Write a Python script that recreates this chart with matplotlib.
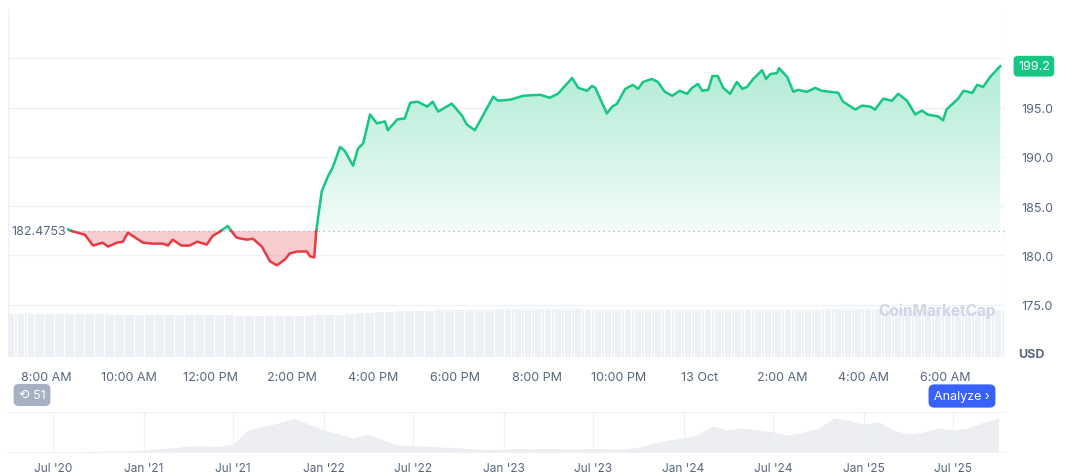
import matplotlib.pyplot as plt
import matplotlib.dates as mdates
import numpy as np
import pandas as pd

plt.rcParams['font.family'] = ['Inter', 'DejaVu Sans']

# price series, 12-13 Oct
times = ["08:28", "08:37", "08:56", "09:08", "09:22", "09:30", "09:43", "09:52", "09:59", "10:17",
         "10:21", "10:36", "10:51", "10:58", "11:05", "11:18", "11:30", "11:41", "11:55", "12:04",
         "12:14", "12:26", "12:32", "12:39", "12:54", "13:03", "13:16", "13:28", "13:38", "13:50",
         "13:57", "14:08", "14:22", "14:27", "14:33", "14:36", "14:44", "14:53", "15:00", "15:11",
         "15:18", "15:30", "15:37", "15:45", "15:55", "16:05", "16:17", "16:21", "16:35", "16:46",
         "16:54", "17:05", "17:19", "17:27", "17:35", "17:55", "18:10", "18:17", "18:29", "18:56",
         "19:03", "19:21", "19:40", "20:05", "20:19", "20:31", "20:44", "20:52", "21:01", "21:14",
         "21:21", "21:26", "21:43", "21:51", "21:58", "22:10", "22:21", "22:29", "22:36", "22:49",
         "22:58", "23:08", "23:19", "23:30", "23:41", "23:48", "23:57",
         "+00:03", "+00:12", "+00:18", "+00:26", "+00:34", "+00:44", "+00:54", "+01:02", "+01:09",
         "+01:18", "+01:31", "+01:37", "+01:43", "+01:53", "+01:56", "+02:08", "+02:17", "+02:24",
         "+02:37", "+02:49", "+02:59", "+03:11", "+03:23", "+03:30", "+03:48", "+03:58", "+04:10",
         "+04:17", "+04:29", "+04:42", "+04:51", "+05:04", "+05:16", "+05:26", "+05:34", "+05:50",
         "+05:57", "+06:02", "+06:19", "+06:27", "+06:40", "+06:47", "+06:56", "+07:06", "+07:21"]
prices = [182.74, 182.47, 182.1, 181.0, 181.3, 180.9, 181.3, 181.4, 182.3, 181.5,
          181.3, 181.2, 181.2, 181.0, 181.6, 181.0, 181.0, 181.4, 181.1, 182.0,
          182.4, 183.0, 182.4, 181.8, 181.6, 181.7, 180.9, 179.4, 179.0, 179.6,
          180.2, 180.4, 180.4, 179.9, 179.8, 182.5, 186.5, 188.0, 188.9, 191.0,
          190.6, 189.1, 190.8, 191.4, 194.3, 193.4, 193.6, 192.7, 193.8, 193.9,
          195.5, 195.6, 195.1, 195.6, 194.6, 195.4, 194.2, 193.3, 192.7, 196.1,
          195.7, 195.8, 196.2, 196.3, 196.0, 196.4, 197.4, 198.0, 197.0, 196.7,
          197.2, 197.0, 194.4, 195.1, 195.4, 196.9, 197.3, 196.9, 197.6, 197.9,
          197.6, 196.6, 196.2, 196.7, 196.4, 197.0, 197.4,
          196.7, 196.8, 198.2, 198.2, 197.0, 196.4, 197.6, 196.9, 197.1,
          197.9, 198.8, 197.9, 198.4, 198.5, 199.0, 198.1, 196.6, 196.8,
          196.6, 197.0, 196.7, 196.6, 196.5, 195.6, 194.8, 195.2, 195.1,
          194.8, 195.9, 195.7, 196.4, 195.7, 194.3, 194.7, 194.3, 194.1,
          193.7, 194.8, 195.9, 196.7, 196.5, 197.3, 197.1, 198.1, 199.2]
open_price = 182.4753
last_label = "199.2"

# hourly volume (relative)
vol_hours = list(range(7, 32))
volumes = [0.90, 0.90, 0.89, 0.88, 0.87, 0.87, 0.86, 0.86, 0.87, 0.93, 0.96, 0.98,
           0.99, 0.99, 0.99, 0.98, 0.98, 0.98, 0.98, 0.98, 0.99, 0.99, 0.99, 0.98, 0.98]

xtick_times = ["08:00", "10:00", "12:00", "14:00", "16:00", "18:00", "20:00", "22:00",
               "+00:00", "+02:00", "+04:00", "+06:00"]
xtick_labels = ["8:00 AM", "10:00 AM", "12:00 PM", "2:00 PM", "4:00 PM", "6:00 PM", "8:00 PM",
                "10:00 PM", "13 Oct", "2:00 AM", "4:00 AM", "6:00 AM"]
yticks = [175.0, 180.0, 185.0, 190.0, 195.0]

# navigator history (monthly, relative)
nav_start = "2020-04-01"
nav_values = [0.0, 0.0, 0.01, 0.01, 0.01, 0.01, 0.02, 0.02, 0.03,
              0.05, 0.08, 0.10, 0.15, 0.15, 0.14, 0.20, 0.55, 0.65, 0.72, 0.85, 0.70,
              0.55, 0.45, 0.35, 0.45, 0.30, 0.18, 0.15, 0.15, 0.12, 0.10, 0.08, 0.06,
              0.07, 0.09, 0.08, 0.09, 0.08, 0.08, 0.09, 0.08, 0.07, 0.12, 0.22, 0.30,
              0.35, 0.45, 0.65, 0.55, 0.60, 0.55, 0.50, 0.42, 0.50, 0.60, 0.85, 0.80,
              0.70, 0.75, 0.55, 0.45, 0.50, 0.60, 0.55, 0.60, 0.75, 0.85]
nav_ticks = ["2020-07-01", "2021-01-01", "2021-07-01", "2022-01-01", "2022-07-01", "2023-01-01",
             "2023-07-01", "2024-01-01", "2024-07-01", "2025-01-01", "2025-07-01"]
nav_labels = ["Jul '20", "Jan '21", "Jul '21", "Jan '22", "Jul '22", "Jan '23",
              "Jul '23", "Jan '24", "Jul '24", "Jan '25", "Jul '25"]

GREEN = '#16c784'
RED = '#ea3943'
GRID = '#eff2f5'
TXT = '#58667e'


def to_dt(s):
    base = pd.Timestamp("2025-10-12")
    if s.startswith("+"):
        base += pd.Timedelta(days=1)
        s = s[1:]
    h, m = s.split(":")
    return base + pd.Timedelta(hours=int(h), minutes=int(m))


t = mdates.date2num([to_dt(s) for s in times])
p = np.array(prices)
xmin = mdates.date2num(to_dt("07:03"))
xmax = mdates.date2num(to_dt("+07:28"))
W, H = 1072, 477

fig = plt.figure(figsize=(W / 100, H / 100), dpi=100)


def ax_px(x0, y0, x1, y1):
    return fig.add_axes([x0 / W, 1 - y1 / H, (x1 - x0) / W, (y1 - y0) / H])


# volume axes (behind)
axv = ax_px(8, 310, 1005, 358)
vt = mdates.date2num([pd.Timestamp("2025-10-12") + pd.Timedelta(hours=h) for h in vol_hours])
vt_fine = np.linspace(xmin, xmax, 300)
axv.bar(vt_fine, np.interp(vt_fine, vt, volumes), width=(xmax - xmin) / 300 * 0.85,
        color='#edf0f4', align='edge')
axv.set_xlim(xmin, xmax)
axv.set_ylim(0, 1)
axv.axis('off')

ax = ax_px(8, 10, 1005, 358)
ax.patch.set_alpha(0)
ax.set_xlim(xmin, xmax)
ax.set_ylim(169.7, 205.0)

# insert crossing points with the open line
xs, ys = [t[0]], [p[0]]
for i in range(1, len(t)):
    a, b = p[i - 1] - open_price, p[i] - open_price
    if a * b < 0:
        f = a / (a - b)
        xs.append(t[i - 1] + f * (t[i] - t[i - 1]))
        ys.append(open_price)
    xs.append(t[i])
    ys.append(p[i])
xs, ys = np.array(xs), np.array(ys)

ax.fill_between(xs, ys, open_price, where=ys <= open_price, color=RED, alpha=0.25, lw=0,
                interpolate=True)
# gradient fill above
grad = np.linspace(0.05, 0.35, 256).reshape(-1, 1)
cmap = plt.matplotlib.colors.LinearSegmentedColormap.from_list('g', ['#ffffff', GREEN])
img = ax.imshow(grad, extent=[xmin, xmax, open_price, 200], origin='lower', aspect='auto',
                cmap=cmap, vmin=0, vmax=1, zorder=1)
poly = ax.fill_between(xs, np.maximum(ys, open_price), open_price, color='none', lw=0)
img.set_clip_path(poly.get_paths()[0], transform=ax.transData)

up = np.where(ys >= open_price, ys, np.nan)
dn = np.where(ys <= open_price, ys, np.nan)
ax.plot(xs, up, color=GREEN, lw=1.8, zorder=3)
ax.plot(xs, dn, color=RED, lw=1.8, zorder=3)
ax.axhline(open_price, color='#a6b0c3', lw=0.9, ls=(0, (1, 3)), zorder=2)

for y in yticks + [200.0]:
    ax.axhline(y, color=GRID, lw=0.9, zorder=0)
ax.axvline(xmin, color=GRID, lw=1)
ax.axvline(xmax, color=GRID, lw=1)

ax.set_xticks(mdates.date2num([to_dt(s) for s in xtick_times]))
ax.set_xticklabels(xtick_labels)
ax.set_yticks(yticks)
ax.set_yticklabels([f"{v:.1f}" for v in yticks])
ax.yaxis.tick_right()
ax.tick_params(axis='both', length=0, labelsize=9, colors=TXT)
ax.tick_params(axis='x', pad=10)
ax.tick_params(axis='y', pad=12)
for s in ax.spines.values():
    s.set_visible(False)

ax.text(xmin + 0.003, open_price, f"{open_price:.4f}", fontsize=9, color=TXT, va='center',
        ha='left', zorder=5,
        bbox=dict(boxstyle='square,pad=0.1', fc='white', ec='none'))
ax.text(1.013, (199.2 - 169.7) / 35.3, last_label, transform=ax.transAxes, fontsize=9,
        color='white', va='center', ha='left',
        bbox=dict(boxstyle='round,pad=0.35', fc=GREEN, ec='none'))
fig.text(1018 / W, 1 - 355 / H, "USD", fontsize=9, color=TXT, fontweight='bold', va='center')
fig.text(878 / W, 1 - 311 / H, "CoinMarketCap", fontsize=11, color='#cfd6e4',
         fontweight='bold', va='center')

fig.text(32 / W, 1 - 396 / H, "⟲ 51", fontsize=9, color='white', va='center', ha='center',
         bbox=dict(boxstyle='round,pad=0.4', fc='#a6b0c3', ec='none'))
fig.text(962 / W, 1 - 397 / H, "Analyze ›", fontsize=9, color='white', va='center', ha='center',
         bbox=dict(boxstyle='round,pad=0.45', fc='#3861fb', ec='none'))

# navigator
axn = ax_px(8, 413, 1005, 453)
nd = mdates.date2num(pd.date_range(nav_start, periods=len(nav_values), freq='MS'))
axn.fill_between(nd, nav_values, 0, color='#eceef2', lw=0)
axn.set_xlim(mdates.date2num(pd.Timestamp(nav_start)), mdates.date2num(pd.Timestamp("2025-10-14")))
axn.set_ylim(0, 1.0)
axn.set_xticks(mdates.date2num(pd.to_datetime(nav_ticks)))
axn.set_xticklabels(nav_labels)
axn.set_yticks([])
axn.grid(axis='x', color=GRID, lw=0.9)
axn.tick_params(axis='x', length=0, labelsize=8.5, colors=TXT, pad=7)
for k, s in axn.spines.items():
    s.set_visible(k in ('top', 'bottom'))
    s.set_color(GRID)

fig.savefig('out.png', dpi=100)
